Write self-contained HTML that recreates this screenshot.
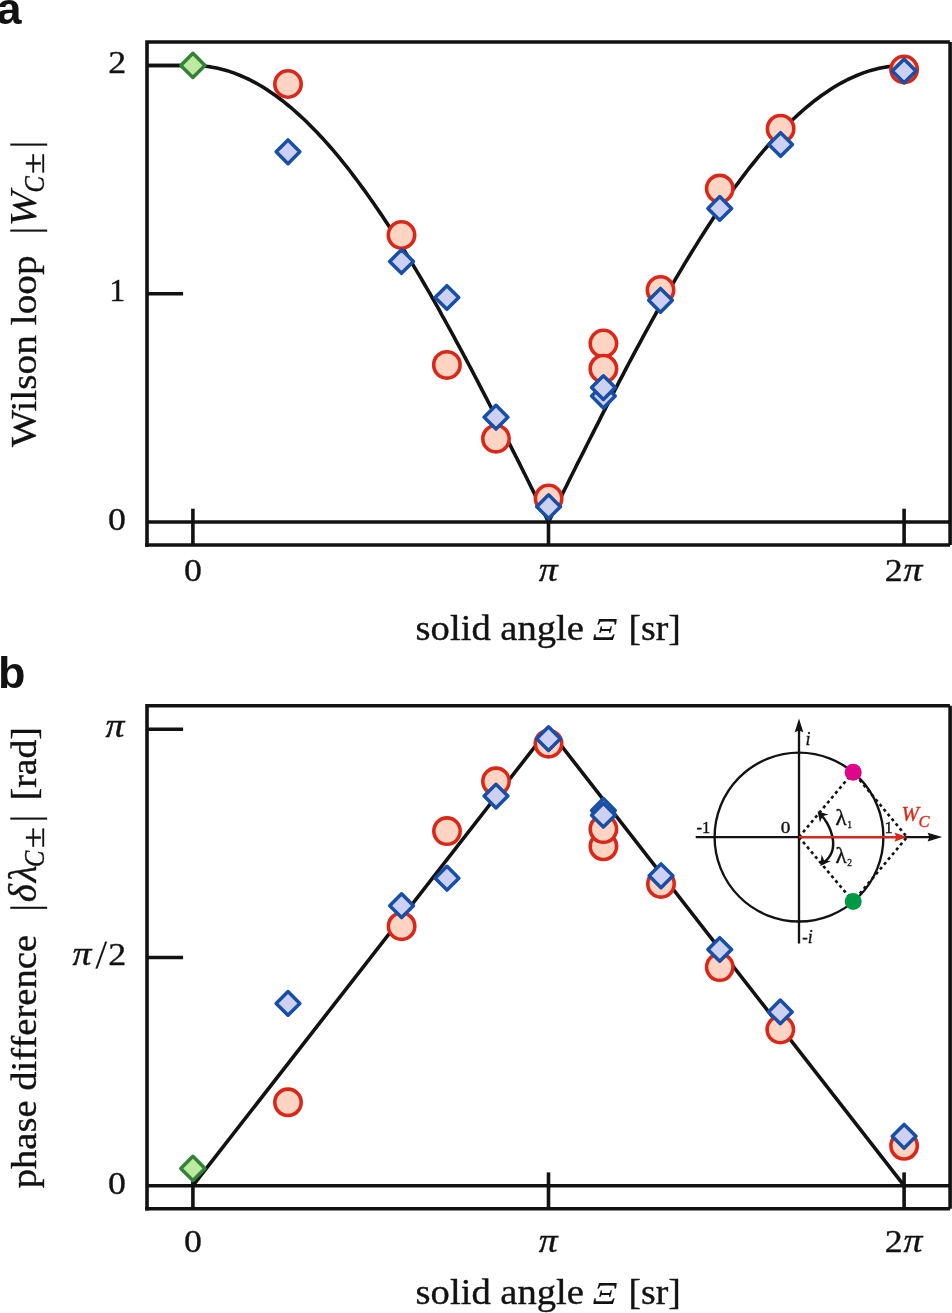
<!DOCTYPE html>
<html lang="en"><head><meta charset="utf-8"><title>Wilson loop and phase difference</title>
<style>
html,body{margin:0;padding:0;background:#fff;}
body{width:952px;height:1313px;overflow:hidden;}
svg{display:block;}
text{font-family:"Liberation Serif","DejaVu Serif",serif;fill:#111211;stroke:#111211;stroke-width:0.35px;}
.b{font-family:"Liberation Sans","DejaVu Sans",sans-serif;font-weight:bold;font-size:45px;stroke-width:0;}
.t{font-size:32px;}
.l{font-size:39px;}
.i{font-style:italic;}
.s{font-size:16.5px;}
.p{font-size:33px;}
</style></head><body>
<svg width="952" height="1313" viewBox="0 0 952 1313">
<rect width="952" height="1313" fill="#fff"/>
<g id="panel-a">
<g fill="none" stroke="#111211" stroke-width="3.6" stroke-linecap="butt">
<path d="M147.0 546.80V42.05H949.90"/>
<path d="M950.1 42.05V545.00"/>
<path d="M145.20 545.00H950.10"/>
<path d="M147.0 522.0H950.1"/>
<path d="M192.9 508.70V545.00"/>
<path d="M548.5 508.70V545.00"/>
<path d="M904.1 508.70V545.00"/>
<path d="M147.0 65.5H183.1"/>
<path d="M147.0 293.75H183.1"/>
</g>
<path d="M147.0 65.5L192.9 65.5L195.9 65.5L198.8 65.7L201.8 65.9L204.8 66.1L207.7 66.5L210.7 66.9L213.6 67.4L216.6 68.0L219.6 68.7L222.5 69.4L225.5 70.2L228.5 71.1L231.4 72.1L234.4 73.1L237.4 74.3L240.3 75.5L243.3 76.8L246.2 78.1L249.2 79.5L252.2 81.1L255.1 82.6L258.1 84.3L261.1 86.0L264.0 87.8L267.0 89.7L269.9 91.7L272.9 93.7L275.9 95.8L278.8 98.0L281.8 100.2L284.8 102.6L287.7 105.0L290.7 107.4L293.7 110.0L296.6 112.6L299.6 115.3L302.5 118.0L305.5 120.8L308.5 123.7L311.4 126.7L314.4 129.7L317.4 132.8L320.3 135.9L323.3 139.1L326.2 142.4L329.2 145.8L332.2 149.2L335.1 152.7L338.1 156.2L341.1 159.8L344.0 163.5L347.0 167.2L350.0 171.0L352.9 174.9L355.9 178.8L358.8 182.8L361.8 186.8L364.8 190.9L367.7 195.0L370.7 199.2L373.7 203.5L376.6 207.8L379.6 212.1L382.6 216.5L385.5 221.0L388.5 225.5L391.4 230.1L394.4 234.7L397.4 239.4L400.3 244.1L403.3 248.9L406.3 253.7L409.2 258.5L412.2 263.4L415.1 268.4L418.1 273.4L421.1 278.4L424.0 283.5L427.0 288.6L430.0 293.7L432.9 298.9L435.9 304.2L438.9 309.4L441.8 314.8L444.8 320.1L447.7 325.5L450.7 330.9L453.7 336.3L456.6 341.8L459.6 347.3L462.6 352.8L465.5 358.4L468.5 364.0L471.5 369.6L474.4 375.3L477.4 380.9L480.3 386.6L483.3 392.3L486.3 398.1L489.2 403.8L492.2 409.6L495.2 415.4L498.1 421.3L501.1 427.1L504.0 432.9L507.0 438.8L510.0 444.7L512.9 450.6L515.9 456.5L518.9 462.4L521.8 468.3L524.8 474.3L527.8 480.2L530.7 486.2L533.7 492.1L536.6 498.1L539.6 504.1L542.6 510.1L545.5 516.0L548.5 522.0L551.5 516.0L554.4 510.1L557.4 504.1L560.4 498.1L563.3 492.1L566.3 486.2L569.2 480.2L572.2 474.3L575.2 468.3L578.1 462.4L581.1 456.5L584.1 450.6L587.0 444.7L590.0 438.8L593.0 432.9L595.9 427.1L598.9 421.3L601.8 415.4L604.8 409.6L607.8 403.8L610.7 398.1L613.7 392.3L616.7 386.6L619.6 380.9L622.6 375.3L625.5 369.6L628.5 364.0L631.5 358.4L634.4 352.8L637.4 347.3L640.4 341.8L643.3 336.3L646.3 330.9L649.3 325.5L652.2 320.1L655.2 314.8L658.1 309.4L661.1 304.2L664.1 298.9L667.0 293.8L670.0 288.6L673.0 283.5L675.9 278.4L678.9 273.4L681.9 268.4L684.8 263.4L687.8 258.5L690.7 253.7L693.7 248.9L696.7 244.1L699.6 239.4L702.6 234.7L705.6 230.1L708.5 225.5L711.5 221.0L714.4 216.5L717.4 212.1L720.4 207.8L723.3 203.5L726.3 199.2L729.3 195.0L732.2 190.9L735.2 186.8L738.2 182.8L741.1 178.8L744.1 174.9L747.0 171.0L750.0 167.2L753.0 163.5L755.9 159.8L758.9 156.2L761.9 152.7L764.8 149.2L767.8 145.8L770.8 142.4L773.7 139.1L776.7 135.9L779.6 132.8L782.6 129.7L785.6 126.7L788.5 123.7L791.5 120.8L794.5 118.0L797.4 115.3L800.4 112.6L803.3 110.0L806.3 107.4L809.3 105.0L812.2 102.6L815.2 100.2L818.2 98.0L821.1 95.8L824.1 93.7L827.1 91.7L830.0 89.7L833.0 87.8L835.9 86.0L838.9 84.3L841.9 82.6L844.8 81.1L847.8 79.5L850.8 78.1L853.7 76.8L856.7 75.5L859.6 74.3L862.6 73.1L865.6 72.1L868.5 71.1L871.5 70.2L874.5 69.4L877.4 68.7L880.4 68.0L883.4 67.4L886.3 66.9L889.3 66.5L892.2 66.1L895.2 65.9L898.2 65.7L901.1 65.5L904.1 65.5" fill="none" stroke="#111211" stroke-width="3.6" stroke-linejoin="round"/>
<circle cx="288" cy="84" r="13.2" fill="#ffd4c2" stroke="#d9281a" stroke-width="3.6"/>
<circle cx="401.5" cy="235" r="13.2" fill="#ffd4c2" stroke="#d9281a" stroke-width="3.6"/>
<circle cx="446.9" cy="364.9" r="13.2" fill="#ffd4c2" stroke="#d9281a" stroke-width="3.6"/>
<circle cx="496" cy="438.7" r="13.2" fill="#ffd4c2" stroke="#d9281a" stroke-width="3.6"/>
<circle cx="548.6" cy="498.5" r="13.2" fill="#ffd4c2" stroke="#d9281a" stroke-width="3.6"/>
<circle cx="603.4" cy="343.5" r="13.2" fill="#ffd4c2" stroke="#d9281a" stroke-width="3.6"/>
<circle cx="603.4" cy="368.7" r="13.2" fill="#ffd4c2" stroke="#d9281a" stroke-width="3.6"/>
<circle cx="660.5" cy="290" r="13.2" fill="#ffd4c2" stroke="#d9281a" stroke-width="3.6"/>
<circle cx="719.75" cy="188.6" r="13.2" fill="#ffd4c2" stroke="#d9281a" stroke-width="3.6"/>
<circle cx="780.6" cy="128.7" r="13.2" fill="#ffd4c2" stroke="#d9281a" stroke-width="3.6"/>
<circle cx="904.1" cy="69.5" r="13.2" fill="#ffd4c2" stroke="#d9281a" stroke-width="3.6"/>
<path d="M288 139.95L299.85 151.8L288 163.65L276.15 151.8Z" fill="#cdd0f1" stroke="#174fa6" stroke-width="3.5" stroke-linejoin="round"/>
<path d="M401.5 249.65L413.35 261.5L401.5 273.35L389.65 261.5Z" fill="#cdd0f1" stroke="#174fa6" stroke-width="3.5" stroke-linejoin="round"/>
<path d="M446.9 285.65L458.75 297.5L446.9 309.35L435.05 297.5Z" fill="#cdd0f1" stroke="#174fa6" stroke-width="3.5" stroke-linejoin="round"/>
<path d="M496 405.35L507.85 417.2L496 429.05L484.15 417.2Z" fill="#cdd0f1" stroke="#174fa6" stroke-width="3.5" stroke-linejoin="round"/>
<path d="M548.6 494.85L560.45 506.7L548.6 518.55L536.75 506.7Z" fill="#cdd0f1" stroke="#174fa6" stroke-width="3.5" stroke-linejoin="round"/>
<path d="M603.4 384.25L615.25 396.1L603.4 407.95L591.55 396.1Z" fill="#cdd0f1" stroke="#174fa6" stroke-width="3.5" stroke-linejoin="round"/>
<path d="M603.4 375.75L615.25 387.6L603.4 399.45L591.55 387.6Z" fill="#cdd0f1" stroke="#174fa6" stroke-width="3.5" stroke-linejoin="round"/>
<path d="M660.5 288.45L672.35 300.3L660.5 312.15L648.65 300.3Z" fill="#cdd0f1" stroke="#174fa6" stroke-width="3.5" stroke-linejoin="round"/>
<path d="M719.75 196.55L731.60 208.4L719.75 220.25L707.90 208.4Z" fill="#cdd0f1" stroke="#174fa6" stroke-width="3.5" stroke-linejoin="round"/>
<path d="M780.6 132.65L792.45 144.5L780.6 156.35L768.75 144.5Z" fill="#cdd0f1" stroke="#174fa6" stroke-width="3.5" stroke-linejoin="round"/>
<path d="M904.1 59.15L915.95 71L904.1 82.85L892.25 71Z" fill="#cdd0f1" stroke="#174fa6" stroke-width="3.5" stroke-linejoin="round"/>
<path d="M192.9 53.30L205.00 65.4L192.9 77.50L180.80 65.4Z" fill="#bde9a1" stroke="#34823a" stroke-width="3.5" stroke-linejoin="round"/>
</g>
<g id="panel-b">
<g fill="none" stroke="#111211" stroke-width="3.6" stroke-linecap="butt">
<path d="M147.0 1210.50V705.75H949.90"/>
<path d="M950.1 705.75V1208.70"/>
<path d="M145.20 1208.70H950.10"/>
<path d="M147.0 1185.7H950.1"/>
<path d="M192.9 1172.40V1208.70"/>
<path d="M548.5 1172.40V1208.70"/>
<path d="M904.1 1172.40V1208.70"/>
<path d="M147.0 729.2H183.1"/>
<path d="M147.0 957.45H183.1"/>
</g>
<path d="M192.9 1185.7L548.5 729.2L904.1 1185.7" fill="none" stroke="#111211" stroke-width="3.6" stroke-linejoin="miter"/>
<circle cx="288" cy="1102.3" r="13.2" fill="#ffd4c2" stroke="#d9281a" stroke-width="3.6"/>
<circle cx="401.6" cy="926.2" r="13.2" fill="#ffd4c2" stroke="#d9281a" stroke-width="3.6"/>
<circle cx="447" cy="831.1" r="13.2" fill="#ffd4c2" stroke="#d9281a" stroke-width="3.6"/>
<circle cx="496" cy="781.3" r="13.2" fill="#ffd4c2" stroke="#d9281a" stroke-width="3.6"/>
<circle cx="548.5" cy="743.7" r="13.2" fill="#ffd4c2" stroke="#d9281a" stroke-width="3.6"/>
<circle cx="603.4" cy="846.3" r="13.2" fill="#ffd4c2" stroke="#d9281a" stroke-width="3.6"/>
<circle cx="603.4" cy="829.1" r="13.2" fill="#ffd4c2" stroke="#d9281a" stroke-width="3.6"/>
<circle cx="661" cy="883.9" r="13.2" fill="#ffd4c2" stroke="#d9281a" stroke-width="3.6"/>
<circle cx="719.75" cy="967.1" r="13.2" fill="#ffd4c2" stroke="#d9281a" stroke-width="3.6"/>
<circle cx="780.3" cy="1029.5" r="13.2" fill="#ffd4c2" stroke="#d9281a" stroke-width="3.6"/>
<circle cx="904.1" cy="1145.8" r="13.2" fill="#ffd4c2" stroke="#d9281a" stroke-width="3.6"/>
<path d="M288 991.55L299.85 1003.4L288 1015.25L276.15 1003.4Z" fill="#cdd0f1" stroke="#174fa6" stroke-width="3.5" stroke-linejoin="round"/>
<path d="M401.6 893.85L413.45 905.7L401.6 917.55L389.75 905.7Z" fill="#cdd0f1" stroke="#174fa6" stroke-width="3.5" stroke-linejoin="round"/>
<path d="M447 866.35L458.85 878.2L447 890.05L435.15 878.2Z" fill="#cdd0f1" stroke="#174fa6" stroke-width="3.5" stroke-linejoin="round"/>
<path d="M496 784.25L507.85 796.1L496 807.95L484.15 796.1Z" fill="#cdd0f1" stroke="#174fa6" stroke-width="3.5" stroke-linejoin="round"/>
<path d="M548.5 726.85L560.35 738.7L548.5 750.55L536.65 738.7Z" fill="#cdd0f1" stroke="#174fa6" stroke-width="3.5" stroke-linejoin="round"/>
<path d="M603.4 798.55L615.25 810.4L603.4 822.25L591.55 810.4Z" fill="#cdd0f1" stroke="#174fa6" stroke-width="3.5" stroke-linejoin="round"/>
<path d="M603.4 803.35L615.25 815.2L603.4 827.05L591.55 815.2Z" fill="#cdd0f1" stroke="#174fa6" stroke-width="3.5" stroke-linejoin="round"/>
<path d="M661 863.95L672.85 875.8L661 887.65L649.15 875.8Z" fill="#cdd0f1" stroke="#174fa6" stroke-width="3.5" stroke-linejoin="round"/>
<path d="M719.75 937.65L731.60 949.5L719.75 961.35L707.90 949.5Z" fill="#cdd0f1" stroke="#174fa6" stroke-width="3.5" stroke-linejoin="round"/>
<path d="M780.3 1000.05L792.15 1011.9L780.3 1023.75L768.45 1011.9Z" fill="#cdd0f1" stroke="#174fa6" stroke-width="3.5" stroke-linejoin="round"/>
<path d="M904.1 1124.45L915.95 1136.3L904.1 1148.15L892.25 1136.3Z" fill="#cdd0f1" stroke="#174fa6" stroke-width="3.5" stroke-linejoin="round"/>
<path d="M192.9 1156.30L205.00 1168.4L192.9 1180.50L180.80 1168.4Z" fill="#bde9a1" stroke="#34823a" stroke-width="3.5" stroke-linejoin="round"/>
</g>
<g id="inset">
<g fill="none" stroke="#111211" stroke-width="2.35">
<circle cx="799.0" cy="837.1" r="84.4"/>
<path d="M695.7 837.1H932"/><path d="M799.0 728V943.5"/>
</g>
<path d="M942.2 837.1L927.6 832.8000000000001L929.4 837.1L927.6 841.4Z" fill="#111211"/>
<path d="M799.0 718.4L794.7 732.2L799.0 730.4L803.3 732.2Z" fill="#111211"/>
<g fill="none" stroke="#111211" stroke-width="2.6" stroke-dasharray="3.1 3.2">
<path d="M799.0 837.1L853.2 772.2L907.0 837.1L853.2 901.5Z"/>
</g>
<path d="M820.6 814.6C828.5 821.5 843 849 823.2 862.8" fill="none" stroke="#111211" stroke-width="2.5"/>
<path d="M817.6 811.4L828.6 814.4L822.4 816.2L820.0 822.6Z" fill="#111211"/>
<path d="M820.4 866.0L821.6 854.4L824.2 860.6L831.0 861.0Z" fill="#111211"/>
<path d="M799.0 837.1H897" fill="none" stroke="#d9281a" stroke-width="2.4"/>
<path d="M907.0 837.1L894.4 832.5L896.4 837.1L894.4 841.7Z" fill="#d9281a"/>
<circle cx="853.2" cy="772.2" r="8.5" fill="#e0068c"/>
<circle cx="853.2" cy="901.5" r="8.5" fill="#009a44"/>
<text class="s" x="696.4" y="833.4">-1</text>
<text class="s" x="780.8" y="833.4" textLength="9.6" lengthAdjust="spacingAndGlyphs">0</text>
<text class="s" x="884.4" y="833.4">1</text>
<text class="s i" x="805.6" y="745.2" style="font-size:18px">i</text>
<text class="s" x="802.2" y="943">-<tspan class="i" style="font-size:18px">i</tspan></text>
<text x="835.4" y="825.4" style="font-size:23px;stroke-width:0.45px">λ<tspan style="font-size:9.5px;stroke-width:0.3px" dy="2.4" dx="0.6">1</tspan></text>
<text x="835.4" y="863.4" style="font-size:23px;stroke-width:0.45px">λ<tspan style="font-size:9.5px;stroke-width:0.3px" dy="2.4" dx="0.6">2</tspan></text>
<text class="i" x="901.6" y="821.4" style="font-size:21px;fill:#d9281a;stroke:#d9281a">W<tspan style="font-size:16.5px" dy="6" dx="-0.5">C</tspan></text>
</g>
<g id="labels">
<text class="b" x="-3.6" y="23.7">a</text>
<text class="b" x="-1.9" y="687.7">b</text>
<text class="t" x="108.2" y="72.7" textLength="17.9" lengthAdjust="spacingAndGlyphs">2</text>
<text class="t" x="109.2" y="300.5">1</text>
<text class="t" x="108.0" y="530.4" textLength="17.9" lengthAdjust="spacingAndGlyphs">0</text>
<text class="t" x="183.95000000000002" y="581.2" textLength="17.9" lengthAdjust="spacingAndGlyphs">0</text>
<text class="t i p" x="538.7" y="581.2" textLength="18.9" lengthAdjust="spacingAndGlyphs">π</text>
<text class="t" x="884.8" y="581.2" textLength="17.9" lengthAdjust="spacingAndGlyphs">2</text>
<text class="t i p" x="903.4" y="581.2" textLength="18.9" lengthAdjust="spacingAndGlyphs">π</text>
<text class="l" x="415.6" y="640.2" style="font-size:36px" textLength="168.4" lengthAdjust="spacingAndGlyphs">solid angle</text>
<text class="l i" x="592.8" y="640.2" style="font-size:32.5px;stroke-width:0.1px" textLength="24.2" lengthAdjust="spacingAndGlyphs">Ξ</text>
<text class="l" x="628.4" y="640.2" style="font-size:36px" textLength="52.4" lengthAdjust="spacingAndGlyphs">[sr]</text>
<text class="t" x="183.95000000000002" y="1251.8000000000002" textLength="17.9" lengthAdjust="spacingAndGlyphs">0</text>
<text class="t i p" x="538.7" y="1251.8000000000002" textLength="18.9" lengthAdjust="spacingAndGlyphs">π</text>
<text class="t" x="884.8" y="1251.8000000000002" textLength="17.9" lengthAdjust="spacingAndGlyphs">2</text>
<text class="t i p" x="903.4" y="1251.8000000000002" textLength="18.9" lengthAdjust="spacingAndGlyphs">π</text>
<text class="l" x="415.6" y="1303.9" style="font-size:36px" textLength="168.4" lengthAdjust="spacingAndGlyphs">solid angle</text>
<text class="l i" x="592.8" y="1303.9" style="font-size:32.5px;stroke-width:0.1px" textLength="24.2" lengthAdjust="spacingAndGlyphs">Ξ</text>
<text class="l" x="628.4" y="1303.9" style="font-size:36px" textLength="52.4" lengthAdjust="spacingAndGlyphs">[sr]</text>
<text class="t i p" x="105.4" y="737" textLength="18.9" lengthAdjust="spacingAndGlyphs">π</text>
<text class="t i p" x="72.6" y="964.8" textLength="18.9" lengthAdjust="spacingAndGlyphs">π</text>
<text class="t" transform="translate(95.6 968) skewX(-1)" style="font-size:40px;stroke-width:0.1px">/</text>
<text class="t" x="108.2" y="964.8" textLength="17.9" lengthAdjust="spacingAndGlyphs">2</text>
<text class="t" x="108.0" y="1193.8" textLength="17.9" lengthAdjust="spacingAndGlyphs">0</text>
<g transform="translate(36 447.1) rotate(-90)">
<text class="l" x="0" y="0" style="font-size:36px" textLength="191.7" lengthAdjust="spacingAndGlyphs">Wilson loop</text>
<text class="l" x="212.5" y="1.7">|</text>
<text class="l i" x="220.5" y="0" style="font-size:37.5px;stroke-width:0.1px" textLength="35.8" lengthAdjust="spacingAndGlyphs">W</text>
<text class="l i" x="254.5" y="8" style="font-size:29px" textLength="16.3" lengthAdjust="spacingAndGlyphs">C</text>
<text class="l" x="273.3" y="7.5" style="font-size:31px" textLength="20.9" lengthAdjust="spacingAndGlyphs">±</text>
<text class="l" x="298.5" y="1.7">|</text>
</g>
<g transform="translate(36 1188.3) rotate(-90)">
<text class="l" x="0" y="0" style="font-size:36px" textLength="253.4" lengthAdjust="spacingAndGlyphs">phase difference</text>
<text class="l" x="276.6" y="1.7">|</text>
<text class="l i" x="286" y="0">δ</text>
<text class="l i" x="306" y="0" textLength="16.9" lengthAdjust="spacingAndGlyphs">λ</text>
<text class="l i" x="321.2" y="8" style="font-size:29px" textLength="16.3" lengthAdjust="spacingAndGlyphs">C</text>
<text class="l" x="340.4" y="7.5" style="font-size:31px" textLength="20.9" lengthAdjust="spacingAndGlyphs">±</text>
<text class="l" x="365.9" y="1.7">|</text>
<text class="l" x="388" y="0" style="font-size:36px" textLength="73.2" lengthAdjust="spacingAndGlyphs">[rad]</text>
</g>
</g>
</svg></body></html>
